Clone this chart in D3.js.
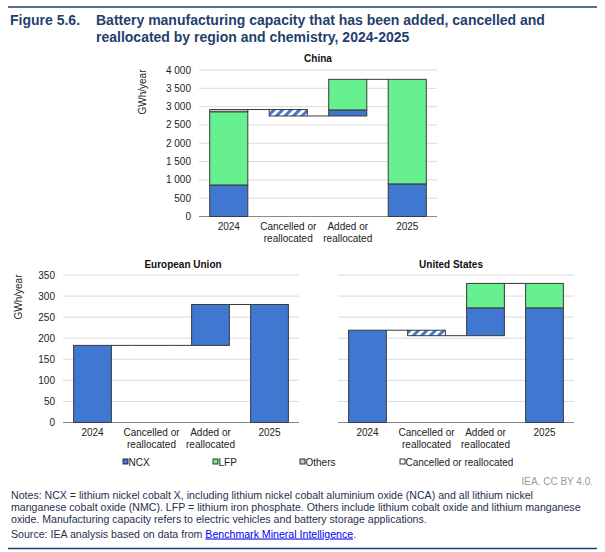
<!DOCTYPE html>
<html>
<head>
<meta charset="utf-8">
<script src="https://cdn.jsdelivr.net/npm/d3@7"></script>
<style>
  body { margin: 0; background: #fff; }
  svg { font-family: "Liberation Sans", Arial, sans-serif; }
</style>
</head>
<body>
<svg id="chart" width="605" height="552"></svg>
<script>
const categories = ["2024", "Cancelled or reallocated", "Added or reallocated", "2025"];
const steps = ["total", "down", "up", "total"];

const chinaNCX = [860, 0, 165, 890];
const chinaLFP = [2000, 0, 835, 2855];
const chinaOthers = [60, 0, 0, 0];
const chinaCancelled = [0, 175, 0, 0];
const chinaTicks = [0, 500, 1000, 1500, 2000, 2500, 3000, 3500, 4000];

const euNCX = [183, 0, 97, 280];
const euLFP = [0, 0, 0, 0];
const euOthers = [0, 0, 0, 0];
const euCancelled = [0, 0, 0, 0];

const usNCX = [219, 0, 66, 272];
const usLFP = [0, 0, 58, 58];
const usOthers = [0, 0, 0, 0];
const usCancelled = [0, 13, 0, 0];
const smallTicks = [0, 50, 100, 150, 200, 250, 300, 350];

const legendLabels = ["NCX", "LFP", "Others", "Cancelled or reallocated"];

const colors = { ncx: "#3f77d1", lfp: "#67f08f", others: "#c9c9c9" };
const ink = "#3a3a3a";

const svg = d3.select("#chart");
const fmt = d3.formatLocale({ decimal: ".", thousands: "\u00a0", grouping: [3], currency: ["", ""] }).format(",");

// hatch for cancelled / reallocated capacity
const pat = svg.append("defs").append("pattern")
  .attr("id", "hatch")
  .attr("patternUnits", "userSpaceOnUse")
  .attr("width", 6).attr("height", 6)
  .attr("patternTransform", "rotate(45)");
pat.append("rect").attr("width", 6).attr("height", 6).attr("fill", "#fff");
pat.append("rect").attr("width", 3).attr("height", 6).attr("fill", colors.ncx);

// header and footer rules
svg.append("line").attr("x1", 8).attr("x2", 597).attr("y1", 7).attr("y2", 7)
  .attr("stroke", "#1f3f6e").attr("stroke-width", 1.5);
svg.append("line").attr("x1", 8).attr("x2", 597).attr("y1", 548.5).attr("y2", 548.5)
  .attr("stroke", "#1f3f6e").attr("stroke-width", 1.5);

const title = svg.append("g").attr("fill", "#1f3f6e").attr("font-weight", "bold").attr("font-size", 14);
title.append("text").attr("x", 10).attr("y", 25).text("Figure 5.6.");
title.append("text").attr("x", 96).attr("y", 25).text("Battery manufacturing capacity that has been added, cancelled and");
title.append("text").attr("x", 96).attr("y", 42).text("reallocated by region and chemistry, 2024-2025");

const panels = [
  { name: "China", ncx: chinaNCX, lfp: chinaLFP, others: chinaOthers, cancelled: chinaCancelled,
    ticks: chinaTicks, x0: 199, x1: 437, yTop: 70, yBottom: 216.5, titleX: 318, titleY: 62,
    showY: true, labelX: 146 },
  { name: "European Union", ncx: euNCX, lfp: euLFP, others: euOthers, cancelled: euCancelled,
    ticks: smallTicks, x0: 63, x1: 299, yTop: 275, yBottom: 422.5, titleX: 183, titleY: 268,
    showY: true, labelX: 22 },
  { name: "United States", ncx: usNCX, lfp: usLFP, others: usOthers, cancelled: usCancelled,
    ticks: smallTicks, x0: 338, x1: 574, yTop: 275, yBottom: 422.5, titleX: 451, titleY: 268,
    showY: false }
];

panels.forEach(drawPanel);

function drawPanel(p) {
  const g = svg.append("g");
  const x = d3.scaleBand().domain(categories).range([p.x0, p.x1])
    .paddingInner(0.36).paddingOuter(0.18);
  const y = d3.scaleLinear().domain([0, d3.max(p.ticks)]).range([p.yBottom, p.yTop]);
  const bw = x.bandwidth();

  g.selectAll(".grid").data(p.ticks.slice(1)).join("line")
    .attr("x1", p.x0).attr("x2", p.x1)
    .attr("y1", d => y(d)).attr("y2", d => y(d))
    .attr("stroke", "#dadada").attr("stroke-width", 1);

  g.append("line").attr("x1", p.x0).attr("x2", p.x1)
    .attr("y1", y(0)).attr("y2", y(0))
    .attr("stroke", "#8a8a8a").attr("stroke-width", 1.2);

  if (p.showY) {
    g.selectAll(".tick").data(p.ticks).join("text")
      .attr("x", p.x0 - 8).attr("y", d => y(d) + 3.5)
      .attr("text-anchor", "end").attr("font-size", 10).attr("fill", "#222")
      .text(d => fmt(d));
    g.append("text")
      .attr("transform", `translate(${p.labelX},${p.yTop + 22}) rotate(-90)`)
      .attr("text-anchor", "middle").attr("font-size", 10).attr("fill", "#222")
      .text("GWh/year");
  }

  g.append("text").attr("x", p.titleX).attr("y", p.titleY)
    .attr("text-anchor", "middle").attr("font-size", 10).attr("font-weight", "bold")
    .attr("fill", "#111").text(p.name);

  // waterfall segments
  const segs = [];
  const levels = [];
  let running = 0;
  categories.forEach((c, i) => {
    if (steps[i] === "down") {
      const base = running - p.cancelled[i];
      if (p.cancelled[i] > 0) segs.push({ c, y0: base, y1: running, fill: "url(#hatch)" });
      running = base;
    } else {
      let base = steps[i] === "total" ? 0 : running;
      [["ncx", p.ncx], ["lfp", p.lfp], ["others", p.others]].forEach(([k, arr]) => {
        if (arr[i] > 0) {
          segs.push({ c, y0: base, y1: base + arr[i], fill: colors[k] });
          base += arr[i];
        }
      });
      running = base;
    }
    levels.push(running);
  });

  // connectors between columns
  categories.slice(0, -1).forEach((c, i) => {
    g.append("line")
      .attr("x1", x(c) + bw).attr("x2", x(categories[i + 1]))
      .attr("y1", y(levels[i])).attr("y2", y(levels[i]))
      .attr("stroke", ink).attr("stroke-width", 1);
    // an empty column keeps the line running across it
    if (!segs.some(s => s.c === categories[i + 1])) {
      g.append("line")
        .attr("x1", x(categories[i + 1])).attr("x2", x(categories[i + 1]) + bw)
        .attr("y1", y(levels[i])).attr("y2", y(levels[i]))
        .attr("stroke", ink).attr("stroke-width", 1);
    }
  });

  g.selectAll(".seg").data(segs).join("rect")
    .attr("x", d => x(d.c)).attr("width", bw)
    .attr("y", d => y(d.y1)).attr("height", d => y(d.y0) - y(d.y1))
    .attr("fill", d => d.fill)
    .attr("stroke", ink).attr("stroke-width", 1);

  // category labels
  const lab = g.selectAll(".xlab").data(categories).join("text")
    .attr("text-anchor", "middle").attr("font-size", 10).attr("fill", "#222");
  lab.each(function (d) {
    const parts = d.includes(" or ") ? [d.split(" or ")[0] + " or", d.split(" or ")[1]] : [d];
    d3.select(this).selectAll("tspan").data(parts).join("tspan")
      .attr("x", x(d) + bw / 2)
      .attr("y", (t, j) => y(0) + 13.5 + j * 12)
      .text(t => t);
  });
}

// legend
const legX = [123, 213, 300, 400];
const legFill = [colors.ncx, colors.lfp, colors.others, "#fff"];
const leg = svg.append("g").selectAll("g").data(legendLabels).join("g")
  .attr("transform", (d, i) => `translate(${legX[i]},462)`);
leg.append("rect").attr("x", 0).attr("y", -3).attr("width", 5).attr("height", 5)
  .attr("fill", (d, i) => legFill[i]).attr("stroke", "#222").attr("stroke-width", 0.9);
leg.append("text").attr("x", 5.5).attr("y", 3.6).attr("font-size", 10).attr("fill", "#222")
  .text(d => d);

svg.append("text").attr("x", 593).attr("y", 484.5).attr("text-anchor", "end")
  .attr("font-size", 10).attr("fill", "#999").text("IEA. CC BY 4.0.");

const notes = svg.append("g").attr("font-size", 10.6).attr("fill", "#1f3050");
[
  "Notes: NCX = lithium nickel cobalt X, including lithium nickel cobalt aluminium oxide (NCA) and all lithium nickel",
  "manganese cobalt oxide (NMC). LFP = lithium iron phosphate. Others include lithium cobalt oxide and lithium manganese",
  "oxide. Manufacturing capacity refers to electric vehicles and battery storage applications."
].forEach((t, i) => {
  notes.append("text").attr("x", 11).attr("y", 498.5 + i * 12.2).text(t);
});
const src = notes.append("text").attr("x", 11).attr("y", 537.5);
src.append("tspan").text("Source: IEA analysis based on data from ");
src.append("tspan").attr("fill", "#0000ee").attr("text-decoration", "underline")
  .text("Benchmark Mineral Intelligence");
src.append("tspan").text(".");
</script>
</body>
</html>
